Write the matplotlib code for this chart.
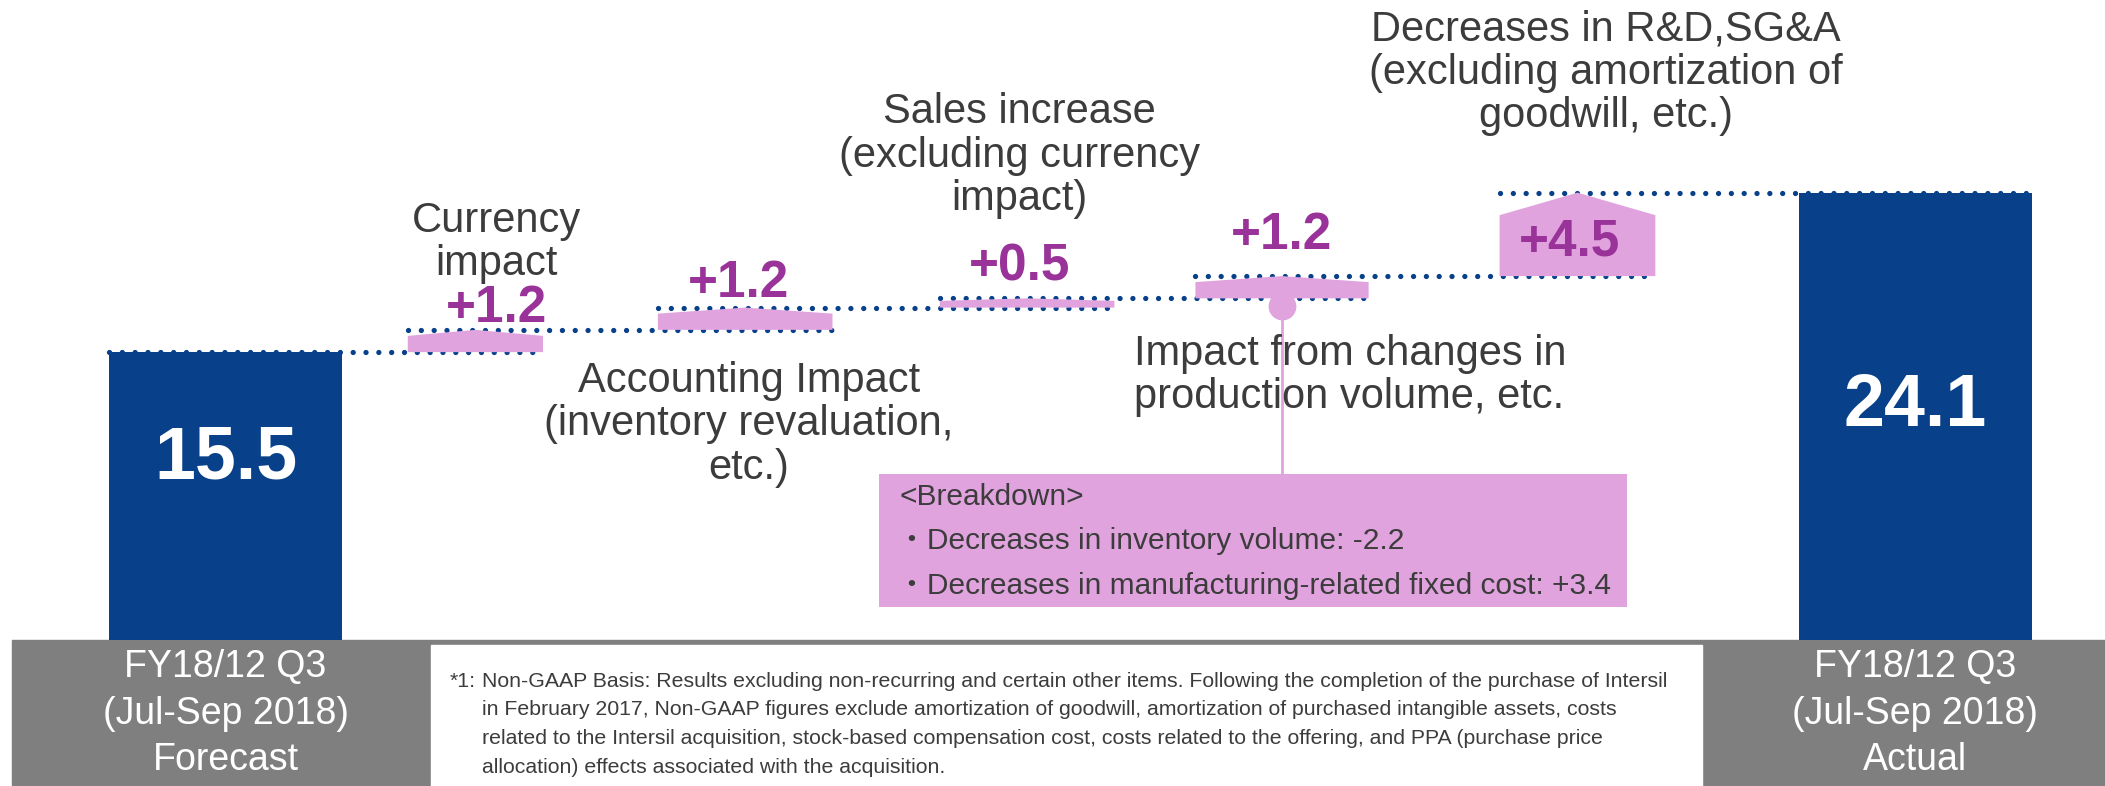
import matplotlib.pyplot as plt
from matplotlib.patches import Polygon, Rectangle

plt.rcParams['font.family'] = ['Liberation Sans', 'Noto Sans CJK JP', 'DejaVu Sans']

# ---- data ----
start_label = 'FY18/12 Q3\n(Jul-Sep 2018)\nForecast'
end_label = 'FY18/12 Q3\n(Jul-Sep 2018)\nActual'
step_labels = ['Currency\nimpact',
               'Accounting Impact\n(inventory revaluation,\netc.)',
               'Sales increase\n(excluding currency\nimpact)',
               'Impact from changes in\nproduction volume, etc.',
               'Decreases in R&D,SG&A\n(excluding amortization of\ngoodwill, etc.)']
start_value = 15.5
deltas = [1.2, 1.2, 0.5, 1.2, 4.5]
breakdown_items = ['Decreases in inventory volume', 'Decreases in manufacturing-related fixed cost']
breakdown_values = [-2.2, 3.4]
footnote_lines = [
    'Non-GAAP Basis: Results excluding non-recurring and certain other items. Following the completion of the purchase of Intersil',
    'in February 2017, Non-GAAP figures exclude amortization of goodwill, amortization of purchased intangible assets, costs',
    'related to the Intersil acquisition, stock-based compensation cost, costs related to the offering, and PPA (purchase price',
    'allocation) effects associated with the acquisition.',
]

# ---- layout / style ----
navy = '#08418A'
pink = '#E0A3DE'
purple = '#993399'
grey = '#7F7F7F'
text_col = '#3C3C3C'

xpos = [0, 0.887, 1.845, 2.846, 3.751, 4.80, 6.0]
widths = [0.83, 0.48, 0.62, 0.62, 0.615, 0.553, 0.825]
# anchor of each step caption: (x, y, ha)
caption_pos = [(0.963, 21.4, 'center'), (1.859, 11.6, 'center'), (2.82, 26.1, 'center'),
               (3.227, 14.25, 'left'), (4.90, 30.55, 'center')]
value_pos = [(0.963, 17.85), (1.82, 19.2), (2.82, 20.1), (3.75, 21.8), (4.77, 21.45)]

levels = [start_value]
for d in deltas:
    levels.append(round(levels[-1] + d, 1))
end_value = levels[-1]

fig = plt.figure(figsize=(21.05, 7.86), dpi=100)
ax = fig.add_axes([0, 0, 1, 1])
ax.set_xlim(-0.8008, 6.673)
ax.set_ylim(-7.9, 34.49)
ax.axis('off')

# bottom band
ax.add_patch(Rectangle((9 / 1568, 0), 1, 109 / 585, transform=ax.transAxes, color=grey, zorder=1))
ax.add_patch(Rectangle((321 / 1568, 0), (1268 - 321) / 1568, 105 / 585, transform=ax.transAxes,
                       color='white', zorder=2))

# start / end bars
ax.bar([xpos[0], xpos[6]], [start_value, end_value], width=[widths[0], widths[6]],
       color=navy, zorder=3)
ax.text(xpos[0], 9.75, f'{start_value:.1f}', color='white', fontsize=53, fontweight='bold',
        ha='center', va='center', zorder=5)
ax.text(xpos[6], 12.55, f'{end_value:.1f}', color='white', fontsize=53, fontweight='bold',
        ha='center', va='center', zorder=5)

# dotted connector lines
for i in range(len(levels)):
    x0 = xpos[i] - widths[i] / 2
    x1 = xpos[i + 1] + widths[i + 1] / 2
    ax.plot([x0, x1], [levels[i], levels[i]], color=navy, lw=3.8,
            linestyle=(0, (0.01, 2.42)), dash_capstyle='round', zorder=3)

# step blocks
for i, d in enumerate(deltas):
    c = xpos[i + 1]
    w = widths[i + 1]
    lo, hi = levels[i], levels[i + 1]
    sh = hi - 0.27 * (hi - lo)
    poly = Polygon([(c - w / 2, lo), (c + w / 2, lo), (c + w / 2, sh), (c, hi), (c - w / 2, sh)],
                   closed=True, color=pink, lw=0, zorder=4)
    ax.add_patch(poly)
    vx, vy = value_pos[i]
    ax.text(vx, vy, f'{d:+.1f}', color=purple, fontsize=37, fontweight='bold',
            ha='center', va='center', zorder=6)
    cx, cy, ha = caption_pos[i]
    ax.text(cx, cy, step_labels[i], color=text_col, fontsize=30, ha=ha, va='center',
            multialignment=ha, linespacing=1.1, zorder=6)

# category labels in grey boxes
for x, lab in [(xpos[0], start_label), (xpos[6], end_label)]:
    ax.text(x, 0.092, lab, transform=ax.get_xaxis_transform(), color='white', fontsize=27,
            ha='center', va='center', linespacing=1.38, zorder=5)

# breakdown box with connector
bx0, bx1 = 2.321, 4.976
by0, by1 = 1.74, 8.91
ax.add_patch(Rectangle((bx0, by0), bx1 - bx0, by1 - by0, color=pink, lw=0, zorder=4))
ax.plot([xpos[4], xpos[4]], [levels[3] - 0.4, by1], color=pink, lw=2, zorder=4)
ax.plot(xpos[4], levels[3] - 0.4, 'o', color=pink, markersize=19, zorder=4)
ax.text(2.393, 7.68, '<Breakdown>', color=text_col, fontsize=21.5, ha='left', va='center', zorder=6)
for j, (item, val) in enumerate(zip(breakdown_items, breakdown_values)):
    ax.text(2.385, 5.29 - j * 2.39, f'・{item}: {val:+.1f}' if val > 0 else f'・{item}: {val:.1f}',
            color=text_col, fontsize=21.5, ha='left', va='center', zorder=6)

# footnote
fig.text(335 / 1568, 1 - 500 / 585, '*1:', color=text_col, fontsize=15.4, ha='left', va='top')
fig.text(359 / 1568, 1 - 500 / 585, '\n'.join(footnote_lines), color=text_col, fontsize=15.3,
         ha='left', va='top', linespacing=1.64)

fig.savefig('out.png', dpi=100)
